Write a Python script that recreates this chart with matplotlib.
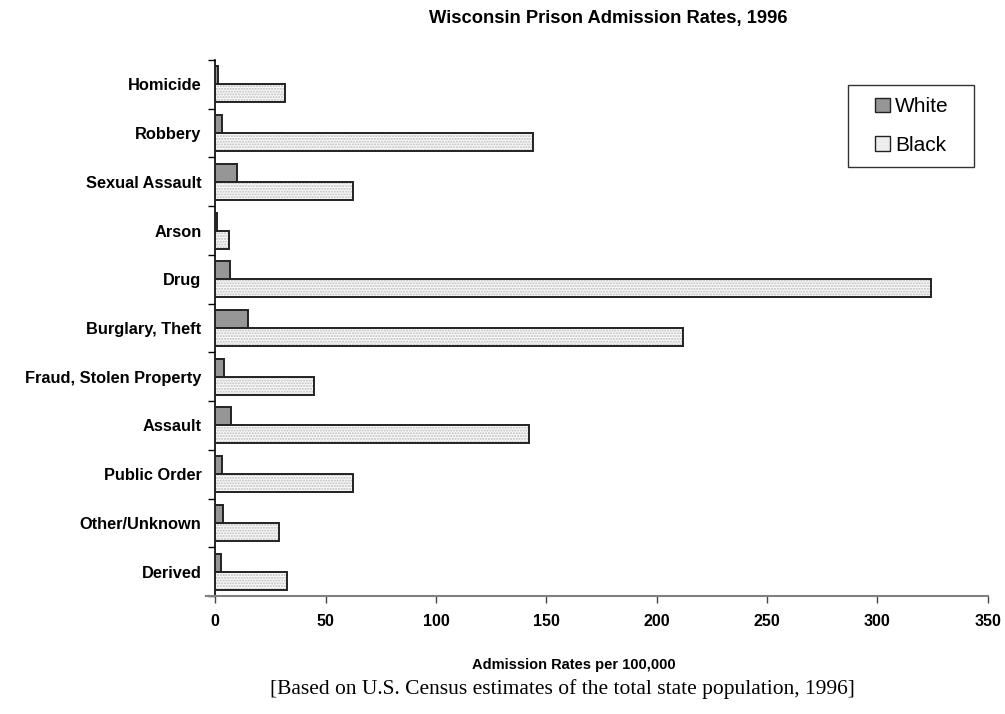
import matplotlib
matplotlib.use("Agg")
import matplotlib.pyplot as plt
import numpy as np
from matplotlib.patches import Patch, Rectangle

categories = ["Homicide", "Robbery", "Sexual Assault", "Arson", "Drug",
              "Burglary, Theft", "Fraud, Stolen Property", "Assault",
              "Public Order", "Other/Unknown", "Derived"]
white = [1.3, 3.1, 9.7, 0.8, 6.6, 14.7, 3.9, 7.2, 3.0, 3.3, 2.5]
black = [31.7, 144.1, 62.5, 6.3, 324.3, 211.8, 44.6, 142.3, 62.5, 28.7, 32.6]
xticks = [0, 50, 100, 150, 200, 250, 300, 350]

plt.rcParams['font.family'] = ['Liberation Sans', 'DejaVu Sans']
plt.rcParams['hatch.linewidth'] = 1.0

fig = plt.figure(figsize=(10.05, 7.14), dpi=100)
ax = fig.add_axes([215.3/1005, 1-596/714, (987.8-215.3)/1005, (596-60)/714])

y = np.arange(len(categories))
h = 0.37
edge = '#222222'
ax.barh(y - h/2, white, height=h, color='#969696', edgecolor=edge, linewidth=1.4, zorder=3)
# black series: dotted fill then outline
ax.barh(y + h/2, black, height=h, color='#fafafa', edgecolor='#bcbcbc', hatch='......', linewidth=0, zorder=3)
ax.barh(y + h/2, black, height=h, color='none', edgecolor=edge, linewidth=1.4, zorder=4)

ax.set_xlim(0, 350)
ax.set_ylim(len(categories) - 0.5, -0.5)
ax.set_xticks(xticks)
ax.set_xticklabels([str(t) for t in xticks], fontsize=11.5, fontweight='bold')
ax.set_yticks(y)
ax.set_yticklabels(categories, fontsize=11.8, fontweight='bold')
ax.set_yticks(np.arange(-0.5, len(categories) + 0.5, 1), minor=True)
ax.tick_params(axis='y', which='major', length=0, pad=10)
ax.tick_params(axis='y', which='minor', length=5, width=1, color='black', direction='out')
ax.tick_params(axis='x', which='major', length=5, width=1, color='#444444', direction='out', pad=8)

for s in ['top', 'right']:
    ax.spines[s].set_visible(False)
ax.spines['left'].set_color('black')
ax.spines['left'].set_linewidth(1.2)
ax.spines['bottom'].set_color('#808080')
ax.spines['bottom'].set_linewidth(1.5)
ax.plot([-0.012, 0], [0, 0], transform=ax.transAxes, color='#808080', lw=1.5, clip_on=False, zorder=5)

# legend box drawn manually
ax.add_patch(Rectangle((848/1005, 1-167/714), (974-848)/1005, (167-85)/714,
                       transform=fig.transFigure, facecolor='white', edgecolor='#333333',
                       linewidth=1.0, zorder=5, clip_on=False))
handles = [Patch(facecolor='#969696', edgecolor=edge, label='White'),
           Patch(facecolor='#eeeeee', edgecolor=edge, label='Black')]
leg = ax.legend(handles=handles, loc='center', bbox_to_anchor=(912/1005, 1-126/714),
                bbox_transform=fig.transFigure, fontsize=15, frameon=False,
                handlelength=0.7, handleheight=0.7, handletextpad=0.25, labelspacing=0.95,
                borderpad=0, borderaxespad=0)
leg.set_zorder(6)

fig.text(608/1005, 1-18/714, "Wisconsin Prison Admission Rates, 1996", ha='center', va='center',
         fontsize=13.2, fontweight='bold')
fig.text(574/1005, 1-665/714, "Admission Rates per 100,000", ha='center', va='center',
         fontsize=10.5, fontweight='bold')
fig.text(562/1005, 1-689/714, "[Based on U.S. Census estimates of the total state population, 1996]",
         ha='center', va='center', fontsize=15.5, family=['Liberation Serif', 'DejaVu Serif'])

fig.savefig("out.png", dpi=100)
